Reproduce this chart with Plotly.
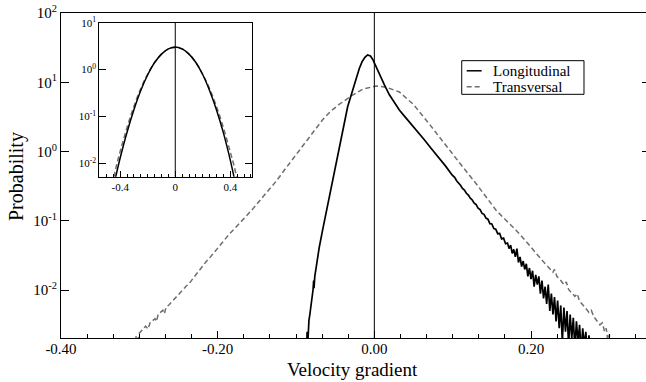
import numpy as np
import plotly.graph_objects as go

FONT = "Liberation Serif, Times New Roman, serif"

# ---------------- main panel data (x = velocity gradient, values = log10 probability) ----------------
long_x = [-0.0870, -0.0858, -0.0850, -0.0843, -0.0835, -0.0822, -0.0809, -0.0795, -0.0782, -0.0775,
          -0.0770, -0.0760, -0.0745, -0.0725, -0.0703, -0.0660, -0.0617, -0.0575, -0.0533, -0.0490,
          -0.0450, -0.0415, -0.0383, -0.0340, -0.0300, -0.0260, -0.0226, -0.0192, -0.0155, -0.0120,
          -0.0086, -0.0050, -0.0020, 0.0000, 0.0064, 0.0130, 0.0192, 0.0250, 0.0319, 0.0400,
          0.0485, 0.0560, 0.0638, 0.0729, 0.0829, 0.0910, 0.0995,
          0.1025, 0.1050, 0.1075, 0.1100, 0.1125, 0.1150, 0.1175, 0.1200, 0.1225, 0.1250,
          0.1275, 0.1300, 0.1325, 0.1350, 0.1375, 0.1400, 0.1425, 0.1450, 0.1475, 0.1500,
          0.1525, 0.1550, 0.1575, 0.1600, 0.1625, 0.1650, 0.1675, 0.1700,
          0.172, 0.174, 0.176, 0.178, 0.180, 0.182, 0.184, 0.186, 0.188, 0.190,
          0.192, 0.194, 0.196, 0.198, 0.200, 0.202, 0.204, 0.206, 0.208, 0.210,
          0.212, 0.214, 0.216, 0.218, 0.220, 0.222, 0.224, 0.226, 0.228, 0.230,
          0.232, 0.234, 0.236, 0.238, 0.240, 0.242, 0.244, 0.246, 0.248, 0.250,
          0.252, 0.254, 0.256, 0.258, 0.260, 0.262, 0.264, 0.266, 0.268, 0.270,
          0.272, 0.274, 0.276]
long_log10p = [-3.00, -2.60, -2.78, -2.50, -2.44, -2.34, -2.24, -2.10, -1.99, -1.86,
               -1.97, -1.80, -1.68, -1.54, -1.38, -1.13, -0.89, -0.65, -0.41, -0.16,
               0.07, 0.27, 0.45, 0.65, 0.80, 0.95, 1.08, 1.20, 1.30, 1.36,
               1.395, 1.38, 1.33, 1.28, 1.11, 0.96, 0.82, 0.71, 0.60, 0.49,
               0.38, 0.28, 0.17, 0.04, -0.09, -0.21, -0.34,
               -0.372, -0.421, -0.452, -0.486, -0.531, -0.555, -0.601, -0.628, -0.672, -0.698,
               -0.745, -0.765, -0.818, -0.838, -0.892, -0.905, -0.960, -0.975, -1.040, -1.045,
               -1.110, -1.120, -1.185, -1.180, -1.260, -1.250, -1.330, -1.320,
               -1.40, -1.35, -1.47, -1.41, -1.52, -1.40, -1.60, -1.52, -1.66, -1.58,
               -1.70, -1.62, -1.80, -1.68, -1.84, -1.72, -1.95, -1.78, -1.92, -1.80,
               -2.05, -1.86, -2.12, -1.95, -2.20, -1.92, -2.30, -2.05, -2.35, -2.10,
               -2.45, -2.15, -2.55, -2.22, -2.75, -2.25, -2.60, -2.30, -2.80, -2.35,
               -2.70, -2.40, -2.85, -2.45, -2.75, -2.50, -2.90, -2.55, -2.80, -2.60,
               -2.95, -2.65, -3.00]

trans_x = [-0.3060, -0.3040, -0.3020, -0.3000, -0.2960, -0.2920, -0.2890, -0.2860, -0.2830, -0.2800,
           -0.2780, -0.2760, -0.2730, -0.2700, -0.2680, -0.2660, -0.2620, -0.2580, -0.2550, -0.2520,
           -0.2490, -0.2460, -0.2430, -0.2400, -0.2362, -0.2300, -0.2250, -0.2200, -0.2149, -0.2100,
           -0.2000, -0.1900, -0.1851, -0.1750, -0.1650, -0.1553, -0.1450, -0.1350, -0.1255, -0.1150,
           -0.1050, -0.0960, -0.0860, -0.0760, -0.0660, -0.0560, -0.0450, -0.0298, -0.0150, 0.0021,
           0.0150, 0.0320, 0.0500, 0.0700, 0.0957, 0.1100, 0.1298, 0.1420, 0.1553, 0.1680,
           0.1809, 0.1940, 0.2064, 0.2150, 0.2200, 0.2250, 0.2280, 0.2300, 0.2330, 0.2380,
           0.2420, 0.2450, 0.2480, 0.2520, 0.2560, 0.2590, 0.2620, 0.2660, 0.2700, 0.2740,
           0.2770, 0.2800, 0.2840, 0.2880, 0.2910, 0.2940, 0.2960, 0.2980, 0.3000, 0.3020]
trans_log10p = [-2.85, -2.66, -2.72, -2.62, -2.57, -2.52, -2.56, -2.46, -2.44, -2.41,
                -2.45, -2.35, -2.32, -2.29, -2.34, -2.25, -2.21, -2.16, -2.13, -2.08,
                -2.05, -2.02, -1.98, -1.94, -1.90, -1.81, -1.73, -1.66, -1.59, -1.53,
                -1.39, -1.25, -1.19, -1.07, -0.95, -0.83, -0.69, -0.56, -0.43, -0.27,
                -0.12, 0.02, 0.17, 0.32, 0.46, 0.58, 0.68, 0.80, 0.90, 0.947,
                0.93, 0.86, 0.68, 0.40, 0.022, -0.18, -0.46, -0.65, -0.845, -0.99,
                -1.134, -1.30, -1.471, -1.58, -1.64, -1.71, -1.74, -1.70, -1.80, -1.86,
                -1.92, -1.88, -1.99, -2.04, -2.09, -2.05, -2.16, -2.21, -2.27, -2.32,
                -2.29, -2.38, -2.44, -2.50, -2.47, -2.60, -2.55, -2.72, -2.64, -2.85]

# ---------------- inset data ----------------
inset_x = [-0.47, -0.45, -0.43, -0.40, -0.35, -0.30, -0.25, -0.20, -0.15, -0.10, -0.05, 0.00,
           0.05, 0.10, 0.15, 0.20, 0.25, 0.30, 0.35, 0.40, 0.43, 0.45, 0.47]
inset_long_log10p = [-2.75, -2.51, -2.25, -1.88, -1.33, -0.85, -0.44, -0.11, 0.15, 0.33, 0.44, 0.48,
                     0.44, 0.33, 0.15, -0.11, -0.45, -0.86, -1.35, -1.93, -2.33, -2.60, -2.85]
inset_trans_log10p = [-2.62, -2.36, -2.08, -1.74, -1.23, -0.78, -0.40, -0.09, 0.15, 0.33, 0.44, 0.47,
                      0.44, 0.33, 0.15, -0.10, -0.41, -0.79, -1.24, -1.76, -2.08, -2.36, -2.62]

# ---------------- ticks ----------------
main_xticks = [-0.4, -0.2, 0.0, 0.2]
main_xticktext = ["-0.40", "-0.20", "0.00", "0.20"]
main_yticks = [0.01, 0.1, 1, 10, 100]
main_yticktext = ["10<sup>-2</sup>", "10<sup>-1</sup>", "10<sup>0</sup>", "10<sup>1</sup>", "10<sup>2</sup>"]
inset_xticks = [-0.4, 0.0, 0.4]
inset_xticktext = ["-0.4", "0", "0.4"]
inset_yticks = [0.01, 0.1, 1, 10]
inset_yticktext = ["10<sup>-2</sup>", "10<sup>-1</sup>", "10<sup>0</sup>", "10<sup>1</sup>"]

series_names = ["Longitudinal", "Transversal"]
GRAY = "#6e6e6e"
DASH = "5px,3px"


def to_p(v):
    return (10.0 ** np.asarray(v, dtype=float)).tolist()


fig = go.Figure()
fig.add_trace(go.Scatter(x=trans_x, y=to_p(trans_log10p), mode="lines", name=series_names[1],
                         line=dict(color=GRAY, width=1.5, dash=DASH), xaxis="x", yaxis="y"))
fig.add_trace(go.Scatter(x=long_x, y=to_p(long_log10p), mode="lines", name=series_names[0],
                         line=dict(color="black", width=1.7), xaxis="x", yaxis="y"))
# empty trace to materialise the right-hand tick axis
fig.add_trace(go.Scatter(x=[], y=[], xaxis="x", yaxis="y3", showlegend=False, hoverinfo="skip"))
# inset
fig.add_trace(go.Scatter(x=inset_x, y=to_p(inset_trans_log10p), mode="lines", name=series_names[1],
                         line=dict(color=GRAY, width=1.5, dash=DASH, shape="spline"), xaxis="x2", yaxis="y2"))
fig.add_trace(go.Scatter(x=inset_x, y=to_p(inset_long_log10p), mode="lines", name=series_names[0],
                         line=dict(color="black", width=1.5, shape="spline"), xaxis="x2", yaxis="y2"))

axis_common = dict(showgrid=False, zeroline=False, linecolor="black", linewidth=1,
                   tickcolor="black", tickwidth=1, showline=True, automargin=False)

fig.update_layout(
    width=646, height=382,
    margin=dict(l=61, r=0, t=13, b=44.3, autoexpand=False),
    paper_bgcolor="white", plot_bgcolor="white",
    showlegend=False,
    font=dict(family=FONT, color="black"),
    xaxis=dict(range=[-0.4, 0.3468], tickvals=main_xticks, ticktext=main_xticktext,
               ticks="inside", ticklen=7, mirror=True, tickfont=dict(size=15, family=FONT),
               ticklabelstandoff=-3, ticklabeloverflow="allow",
               minor=dict(dtick=0.2 / 6, tick0=-0.4, ticks="inside", ticklen=4,
                          tickcolor="black", showgrid=False),
               **axis_common),
    yaxis=dict(type="log", range=[-2.69, 2.0], tickvals=main_yticks, ticktext=main_yticktext,
               ticks="inside", ticklen=8, tickfont=dict(size=15, family=FONT),
               ticklabeloverflow="allow", **axis_common),
    yaxis3=dict(type="log", range=[-2.69, 2.0], overlaying="y", side="right", anchor="x",
                tickvals=main_yticks, ticks="inside", ticklen=4, tickcolor="black",
                showticklabels=False, showline=False, showgrid=False, zeroline=False,
                automargin=False),
    xaxis2=dict(domain=[0.0655, 0.327], anchor="y2", range=[-0.552, 0.56],
                tickvals=inset_xticks, ticktext=inset_xticktext, ticks="inside", ticklen=6,
                mirror=True, tickfont=dict(size=11, family=FONT),
                minor=dict(dtick=0.05, tick0=0, ticks="inside", ticklen=3,
                           tickcolor="black", showgrid=False),
                **axis_common),
    yaxis2=dict(domain=[0.4963, 0.9702], anchor="x2", type="log", range=[-2.285, 1.0],
                tickvals=inset_yticks, ticktext=inset_yticktext, ticks="inside", ticklen=7,
                mirror="ticks", tickfont=dict(size=11, family=FONT), **axis_common),
)

# zero lines
fig.add_shape(type="line", xref="x", yref="y domain", x0=0, x1=0, y0=0, y1=1,
              line=dict(color="black", width=1))
fig.add_shape(type="line", xref="x2", yref="y2 domain", x0=0, x1=0, y0=0, y1=1,
              line=dict(color="black", width=1))

# legend box (manual, to match the compact original)
leg_rows = [0.8222, 0.7729]
fig.add_shape(type="rect", xref="paper", yref="paper", x0=0.685, x1=0.894, y0=0.7498, y1=0.8533,
              line=dict(color="black", width=1), fillcolor="white", layer="above")
fig.add_shape(type="line", xref="paper", yref="paper", x0=0.6935, x1=0.7191, y0=leg_rows[0], y1=leg_rows[0],
              line=dict(color="black", width=1.5))
fig.add_shape(type="line", xref="paper", yref="paper", x0=0.6935, x1=0.7191, y0=leg_rows[1], y1=leg_rows[1],
              line=dict(color=GRAY, width=1.5, dash=DASH))
for name, yy in zip(series_names, leg_rows):
    fig.add_annotation(text=name, xref="paper", yref="paper", x=0.7345, y=yy, xanchor="left",
                       yanchor="middle", showarrow=False, font=dict(size=15, family=FONT))

# axis titles
fig.add_annotation(text="Velocity gradient", xref="paper", yref="paper", x=0.4991, y=-0.0960,
                   xanchor="center", yanchor="middle", showarrow=False, font=dict(size=19, family=FONT))
fig.add_annotation(text="Probability", xref="paper", yref="paper", x=-0.0752, y=0.4954,
                   xanchor="center", yanchor="middle", textangle=-90, showarrow=False,
                   font=dict(size=20, family=FONT))

# remove the default 8px page margin so the figure fills the window exactly
fig.write_html("out.html", config={"displayModeBar": False},
               post_script="document.body.style.margin='0';document.body.style.padding='0';")
